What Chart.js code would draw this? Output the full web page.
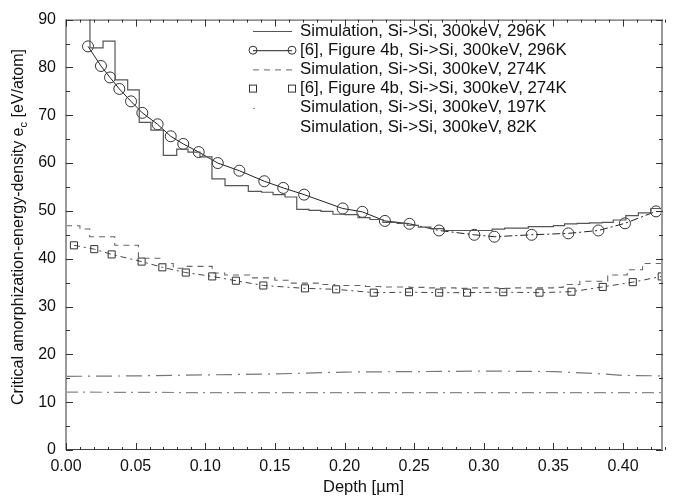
<!DOCTYPE html>
<html>
<head>
<meta charset="utf-8">
<script src="https://cdn.jsdelivr.net/npm/chart.js@4/dist/chart.umd.min.js"></script>
<style>
  html, body { margin: 0; padding: 0; background: #fff; }
  #wrap { width: 681px; height: 500px; }
</style>
</head>
<body>
<div id="wrap"><canvas id="c" width="681" height="500"></canvas></div>
<script>
// ---------------- data ----------------
const seriesNames = [
  'Simulation, Si->Si, 300keV, 296K',
  '[6], Figure 4b, Si->Si, 300keV, 296K',
  'Simulation, Si->Si, 300keV, 274K',
  '[6], Figure 4b, Si->Si, 300keV, 274K',
  'Simulation, Si->Si, 300keV, 197K',
  'Simulation, Si->Si, 300keV, 82K'
];

const depthSim296 = [0.0172,0.0172,0.0266,0.0352,0.0443,0.0526,0.0610,0.0699,0.0795,0.0876,0.0962,0.1048,0.1142,0.1228,0.1309,0.1405,0.1487,0.1573,0.1657,0.1745,0.1831,0.1917,0.2004,0.2097,0.2183,0.2276,0.2377,0.2450,0.2530,0.2620,0.2710,0.2800,0.2880,0.2970,0.3060,0.3150,0.3230,0.3320,0.3410,0.3500,0.3580,0.3670,0.3760,0.3850,0.3930,0.4020,0.4110,0.4200,0.4287];
const sim296 = [100,84.1,85.5,77.4,75.3,68.5,66.9,61.6,62.9,62.3,61.3,56.7,55.3,55.3,54.1,53.9,53.4,52.9,50.3,50.1,49.9,49.3,49.2,48.6,48.2,47.6,47.4,47.0,46.6,46.3,45.9,45.9,45.9,45.9,46.2,46.4,46.4,46.7,46.7,46.9,47.3,47.4,47.5,47.6,48.1,49.0,49.6,50.5,51.2];

const depthExp296 = [0.0158,0.0251,0.0316,0.0383,0.0467,0.0548,0.0658,0.0752,0.0842,0.0953,0.1090,0.1245,0.1424,0.1560,0.1710,0.1987,0.2128,0.2290,0.2466,0.2679,0.2932,0.3076,0.3344,0.3607,0.3823,0.4014,0.4237];
const exp296 = [84.4,80.3,77.9,75.5,72.9,70.5,68.1,65.6,64.0,62.3,60.0,58.4,56.2,54.8,53.4,50.5,49.8,47.9,47.3,45.9,45.0,44.6,45.0,45.3,45.9,47.4,49.9];

const depthSim274 = [0.000,0.010,0.017,0.026,0.035,0.044,0.052,0.061,0.068,0.077,0.087,0.096,0.105,0.114,0.123,0.132,0.141,0.150,0.161,0.172,0.182,0.193,0.204,0.215,0.226,0.236,0.247,0.261,0.270,0.280,0.290,0.300,0.310,0.320,0.330,0.340,0.350,0.357,0.369,0.389,0.403,0.414,0.4287];
const sim274 = [46.9,46.2,44.6,44.6,42.8,42.8,40.1,40.1,39.0,38.0,38.4,38.4,37.0,36.6,36.6,36.0,36.0,35.5,34.9,34.9,34.6,34.4,34.4,34.2,34.1,34.1,34.0,33.9,33.9,33.8,33.9,33.9,33.8,33.9,33.9,33.9,34.0,34.6,35.3,36.6,37.7,39.0,40.1];

const depthExp274 = [0.0057,0.0203,0.0328,0.0543,0.0692,0.0860,0.1050,0.1220,0.1417,0.1716,0.1940,0.2210,0.2463,0.2680,0.2880,0.3140,0.3400,0.3630,0.3854,0.4070,0.4278];
const exp274 = [42.8,42.0,40.9,39.4,38.2,37.1,36.3,35.4,34.4,33.8,33.6,32.9,33.0,32.9,32.9,33.0,32.9,33.1,34.1,35.1,36.3];

const depthSim197 = [0.000,0.050,0.100,0.150,0.200,0.250,0.300,0.350,0.380,0.400,0.4287];
const sim197 = [15.4,15.5,15.7,15.9,16.3,16.4,16.5,16.4,16.0,15.6,15.5];

const depthSim82 = [0.000,0.100,0.200,0.300,0.4287];
const sim82 = [12.1,12.0,12.0,12.0,12.0];

const xTickValues = [0.00,0.05,0.10,0.15,0.20,0.25,0.30,0.35,0.40];
const yTickValues = [0,10,20,30,40,50,60,70,80,90];
const xTitle = 'Depth [\u00b5m]';
const yTitleMain = 'Critical amorphization-energy-density e';
const yTitleSub = 'c';
const yTitleTail = ' [eV/atom]';

// ---------------- helpers ----------------
const pts = (xs, ys) => xs.map((x, i) => ({x: x, y: ys[i]}));
const FONT = '"Liberation Sans", Arial, Helvetica, sans-serif';

const datasets = [
  { label: seriesNames[0], data: pts(depthSim296, sim296), stepped: 'before',
    borderColor: '#555', borderWidth: 1.2, pointRadius: 0, fill: false,
    legendSample: {line: [], marker: null} },
  { label: seriesNames[1], data: pts(depthExp296, exp296),
    borderColor: '#222', borderWidth: 1, pointRadius: 5.5, pointStyle: 'circle',
    pointBorderColor: '#333', pointBackgroundColor: 'rgba(0,0,0,0)', pointBorderWidth: 1, fill: false,
    segment: { borderDash: ctx => ctx.p0.parsed.x > 0.24 ? [8, 3, 2, 3] : undefined },
    legendSample: {line: [], marker: 'circle'} },
  { label: seriesNames[2], data: pts(depthSim274, sim274), stepped: 'before',
    borderColor: '#666', borderWidth: 1.1, borderDash: [6, 5], pointRadius: 0, fill: false,
    legendSample: {line: [6, 5], marker: null} },
  { label: seriesNames[3], data: pts(depthExp274, exp274),
    borderColor: '#444', borderWidth: 1, borderDash: [6, 4, 2, 4], pointRadius: 5, pointStyle: 'rect',
    pointBorderColor: '#333', pointBackgroundColor: 'rgba(0,0,0,0)', pointBorderWidth: 1, fill: false,
    legendSample: {line: null, marker: 'rect'} },
  { label: seriesNames[4], data: pts(depthSim197, sim197),
    borderColor: '#777', borderWidth: 1.2, borderDash: [16, 6, 2, 6], pointRadius: 0, fill: false,
    legendSample: {line: 'dot', marker: null} },
  { label: seriesNames[5], data: pts(depthSim82, sim82),
    borderColor: '#888', borderWidth: 1.2, borderDash: [12, 5, 2, 5], pointRadius: 0, fill: false,
    legendSample: {line: null, marker: null} }
];

// frame, inward ticks, titles, legend
const decor = {
  id: 'decor',
  afterDatasetsDraw(chart) {
    const ctx = chart.ctx;
    const a = chart.chartArea;
    const xs = chart.scales.x, ys = chart.scales.y;
    ctx.save();
    // frame
    ctx.strokeStyle = '#444';
    ctx.lineWidth = 1;
    ctx.strokeRect(a.left + 0.5, a.top + 0.5, a.right - a.left - 1, a.bottom - a.top - 1);
    ctx.strokeStyle = '#999';
    ctx.lineWidth = 2;
    ctx.beginPath();
    ctx.moveTo(a.left, a.top); ctx.lineTo(a.left, a.bottom);
    ctx.moveTo(a.right - 1, a.top); ctx.lineTo(a.right - 1, a.bottom);
    ctx.stroke();
    // ticks
    ctx.strokeStyle = '#333';
    ctx.lineWidth = 1;
    ctx.beginPath();
    for (let i = 0; i <= 43; i++) {
      const v = i / 100;
      const px = Math.round(xs.getPixelForValue(v)) + 0.5;
      const len = (i % 5 === 0) ? 7 : 3;
      ctx.moveTo(px, a.bottom); ctx.lineTo(px, a.bottom - len);
      ctx.moveTo(px, a.top); ctx.lineTo(px, a.top + len);
    }
    for (let i = 0; i <= 18; i++) {
      const v = i * 5;
      const py = Math.round(ys.getPixelForValue(v)) + 0.5;
      const len = (i % 2 === 0) ? 7 : 4;
      ctx.moveTo(a.left, py); ctx.lineTo(a.left + len, py);
      ctx.moveTo(a.right, py); ctx.lineTo(a.right - len, py);
    }
    ctx.stroke();

    // axis titles
    ctx.fillStyle = '#111';
    ctx.font = '16.5px ' + FONT;
    ctx.textAlign = 'center';
    ctx.textBaseline = 'middle';
    ctx.fillText(xTitle, (a.left + a.right) / 2 - 1, 487);

    ctx.save();
    ctx.translate(19, 227);
    ctx.rotate(-Math.PI / 2);
    const f1 = '16px ' + FONT, f2 = '11px ' + FONT;
    ctx.font = f1; const w1 = ctx.measureText(yTitleMain).width;
    const w3 = ctx.measureText(yTitleTail).width;
    ctx.font = f2; const w2 = ctx.measureText(yTitleSub).width;
    let x0 = -(w1 + w2 + w3) / 2;
    ctx.textAlign = 'left';
    ctx.font = f1; ctx.fillText(yTitleMain, x0, 0);
    ctx.font = f2; ctx.fillText(yTitleSub, x0 + w1, 5);
    ctx.font = f1; ctx.fillText(yTitleTail, x0 + w1 + w2, 0);
    ctx.restore();

    // legend
    const lx0 = 253, lx1 = 292, tx = 300, ly0 = 31, dy = 19.2;
    ctx.font = '16.8px ' + FONT;
    ctx.textAlign = 'left';
    ctx.textBaseline = 'middle';
    chart.data.datasets.forEach((ds, i) => {
      const y = ly0 + i * dy;
      const s = ds.legendSample;
      ctx.strokeStyle = ds.borderColor;
      ctx.lineWidth = 1;
      if (Array.isArray(s.line)) {
        ctx.setLineDash(s.line);
        ctx.beginPath(); ctx.moveTo(lx0, y + 0.5); ctx.lineTo(lx1, y + 0.5); ctx.stroke();
        ctx.setLineDash([]);
      } else if (s.line === 'dot') {
        ctx.beginPath(); ctx.moveTo(lx0, y + 0.5); ctx.lineTo(lx0 + 2, y + 0.5); ctx.stroke();
      }
      if (s.marker === 'circle') {
        ctx.strokeStyle = '#333';
        [lx0, lx1].forEach(cx => { ctx.beginPath(); ctx.arc(cx, y, 4, 0, Math.PI * 2); ctx.stroke(); });
      } else if (s.marker === 'rect') {
        ctx.strokeStyle = '#333';
        [lx0, lx1].forEach(cx => { ctx.strokeRect(cx - 3.5, y - 3.5, 7, 7); });
      }
      ctx.fillStyle = '#111';
      ctx.fillText(ds.label, tx, y);
    });
    ctx.restore();
  }
};

new Chart(document.getElementById('c'), {
  type: 'line',
  data: { datasets: datasets },
  options: {
    responsive: false,
    animation: false,
    layout: { padding: { left: 0, right: 18, top: 12, bottom: 0 } },
    plugins: { legend: { display: false }, tooltip: { enabled: false } },
    elements: { line: { tension: 0 } },
    scales: {
      x: {
        type: 'linear', min: 0, max: 0.4287,
        grid: { display: false, drawTicks: false },
        border: { display: false },
        afterBuildTicks: s => { s.ticks = xTickValues.map(v => ({value: v})); },
        afterFit: s => { s.height = 50; },
        ticks: { padding: 7, color: '#111', font: { family: FONT, size: 16 },
                 maxRotation: 0, autoSkip: false,
                 callback: v => Number(v).toFixed(2) }
      },
      y: {
        type: 'linear', min: 0, max: 90,
        grid: { display: false, drawTicks: false },
        border: { display: false },
        afterBuildTicks: s => { s.ticks = yTickValues.map(v => ({value: v})); },
        afterFit: s => { s.width = 66; },
        ticks: { padding: 10, color: '#111', font: { family: FONT, size: 16 },
                 callback: v => String(v) }
      }
    }
  },
  plugins: [decor]
});
</script>
</body>
</html>
